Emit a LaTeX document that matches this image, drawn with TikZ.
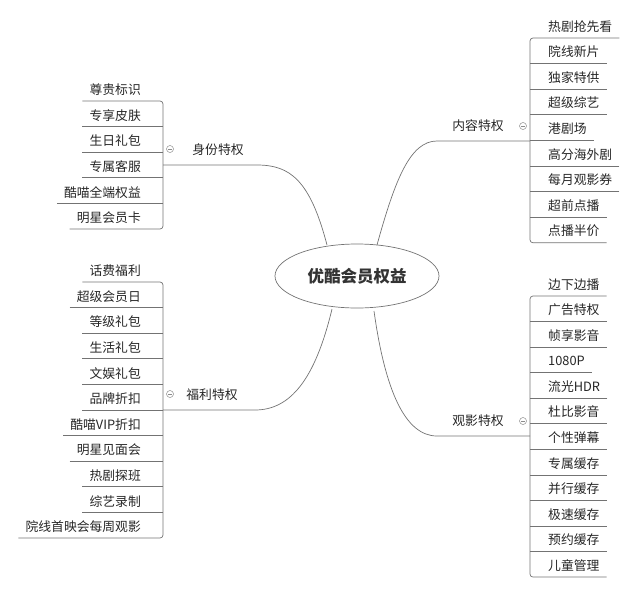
\documentclass[tikz,border=0pt]{standalone}
\usepackage{fontspec}
\usetikzlibrary{shapes.geometric}
\newfontfamily\cjk{Noto Sans CJK SC}
\begin{document}
\begin{tikzpicture}[x=1pt,y=-1pt,
  ln/.style={draw=black!55,line width=0.7pt},
  leafL/.style={anchor=south east,font=\cjk\fontsize{12.8}{13}\selectfont,text=black!85,inner xsep=7pt,inner ysep=0pt,minimum height=23pt,text depth=0pt},
  leafR/.style={anchor=south west,font=\cjk\fontsize{12.8}{13}\selectfont,text=black!85,inner xsep=7pt,inner ysep=0pt,minimum height=23pt},
  br/.style={font=\cjk\fontsize{12.8}{13}\selectfont,text=black!85},
  fold/.style={circle,draw=black!45,line width=0.5pt,minimum size=7pt,inner sep=0pt}]
\useasboundingbox (0,0) rectangle (640,592);
\node[ellipse,draw=black!55,line width=0.7pt,minimum width=164pt,minimum height=64pt,font=\cjk\bfseries\fontsize{16.5}{17}\selectfont,text=black!80] (root) at (357,276) {优酷会员权益};
% branch labels and folds
\node[br] (b1) at (218,150) {身份特权};
\node[br] (b2) at (212,395) {福利特权};
\node[br] (b3) at (478,126) {内容特权};
\node[br] (b4) at (478,421) {观影特权};
\foreach \n/\x/\y in {f1/170/149,f2/170/394,f3/523/126,f4/523/421}{
  \node[fold] (\n) at (\x,\y) {};
  \draw[black!45,line width=0.5pt] ([xshift=-2pt]\n.center) -- ([xshift=2pt]\n.center);
}
% coordinates for brackets
\coordinate (k1) at (163,165);
\coordinate (k2) at (163,410);
\coordinate (k3) at (530,141);
\coordinate (k4) at (530,436);
% curves
\draw[ln] (327,245) .. controls (310,180) and (290,165) .. (257,165) -- (k1);
\draw[ln] (332,309) .. controls (315,380) and (290,410) .. (255,410) -- (k2);
\draw[ln] (377,245) .. controls (395,180) and (410,141) .. (437,141) -- (k3);
\draw[ln] (374,311) .. controls (385,390) and (405,436) .. (437,436) -- (k4);
% left group 1
\foreach \t [count=\i] in {尊贵标识,专享皮肤,生日礼包,专属客服,酷喵全端权益,明星会员卡}{
  \node[leafL] (a\i) at (148,{101+25.6*(\i-1)}) {\t};
}
\foreach \i in {2,...,5}{\draw[ln] (a\i.south west) -- (a\i.south west -| k1);}
\draw[ln,rounded corners=3pt] (a1.south west) -- (a1.south west -| k1) -- (a6.south west -| k1) -- (a6.south west);
% left group 2
\foreach \t [count=\i] in {话费福利,超级会员日,等级礼包,生活礼包,文娱礼包,品牌折扣,酷喵VIP折扣,明星见面会,热剧探班,综艺录制,院线首映会每周观影}{
  \node[leafL] (c\i) at (148,{282+25.6*(\i-1)}) {\t};
}
\foreach \i in {2,...,10}{\draw[ln] (c\i.south west) -- (c\i.south west -| k2);}
\draw[ln,rounded corners=3pt] (c1.south west) -- (c1.south west -| k2) -- (c11.south west -| k2) -- (c11.south west);
% right group 1
\foreach \t [count=\i] in {热剧抢先看,院线新片,独家特供,超级综艺,港剧场,高分海外剧,每月观影券,超前点播,点播半价}{
  \node[leafR] (d\i) at (541,{38+25.6*(\i-1)}) {\t};
}
\foreach \i in {2,...,8}{\draw[ln] (d\i.south east) -- (d\i.south east -| k3);}
\draw[ln,rounded corners=3pt] (d1.south east) -- (d1.south east -| k3) -- (d9.south east -| k3) -- (d9.south east);
% right group 2
\foreach \t [count=\i] in {边下边播,广告特权,帧享影音,1080P,流光HDR,杜比影音,个性弹幕,专属缓存,并行缓存,极速缓存,预约缓存,儿童管理}{
  \node[leafR] (e\i) at (541,{296+25.55*(\i-1)}) {\t};
}
\foreach \i in {2,...,11}{\draw[ln] (e\i.south east) -- (e\i.south east -| k4);}
\draw[ln,rounded corners=3pt] (e1.south east) -- (e1.south east -| k4) -- (e12.south east -| k4) -- (e12.south east);
\end{tikzpicture}
\end{document}
